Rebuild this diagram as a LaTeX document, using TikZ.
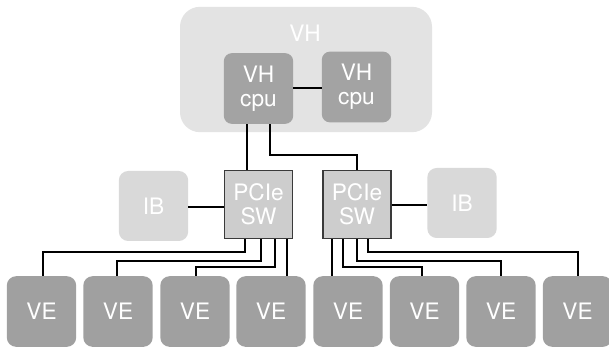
\documentclass[tikz,border=0pt]{standalone}
\usepackage{fontspec}
\setmainfont{TeX Gyre Heros}
\begin{document}
\begin{tikzpicture}[x=0.75pt,y=-0.75pt,
  every node/.style={inner sep=0pt, font=\fontsize{17}{18}\selectfont, text=white, align=center},
  hostbox/.style={fill=hostgray, rounded corners=15pt},
  cpubox/.style={fill=cpugray, rounded corners=6pt, minimum width=52pt, minimum height=53pt},
  ibbox/.style={fill=ibgray, rounded corners=7pt, minimum width=52pt, minimum height=52.5pt},
  swbox/.style={fill=swgray, draw=swedge, line width=0.9pt, minimum width=51pt, minimum height=51.5pt},
  vebox/.style={fill=vegray, rounded corners=7pt, minimum width=52pt, minimum height=53pt},
  link/.style={draw=black, line width=1.05pt}
]
\definecolor{hostgray}{HTML}{E3E3E3}
\definecolor{cpugray}{HTML}{A3A3A3}
\definecolor{ibgray}{HTML}{D9D9D9}
\definecolor{swgray}{HTML}{CDCDCD}
\definecolor{swedge}{HTML}{3A3A3A}
\definecolor{vegray}{HTML}{A0A0A0}

\useasboundingbox (0,0) rectangle (609,352);
\fill[white] (0,0) rectangle (609,352);

% host
\node[hostbox, minimum width=189pt, minimum height=94pt] (vh) at (306,69.5) {};
\node (vhtitle) at (305,33) {VH};
\node[cpubox] (cpu1) at (258.5,88.5) {VH\\cpu};
\node[cpubox] (cpu2) at (356.5,87) {VH\\cpu};

% switches and IB
\node[swbox] (sw1) at (258.5,204.5) {PCIe\\SW};
\node[swbox] (sw2) at (357,204.5) {PCIe\\SW};
\node[ibbox] (ib1) at (153.5,206) {IB};
\node[ibbox] (ib2) at (462,203) {IB};

% vector engines
\foreach \i/\cx in {1/41.5,2/118,3/195,4/271,5/348,6/424.5,7/501,8/577.5}
  \node[vebox] (ve\i) at (\cx,311.5) {VE};

% host links
\draw[link] (cpu1.east |- 0,88) -- (cpu2.west |- 0,88);
\draw[link] (cpu1.south -| 247,0) -- (sw1.north -| 247,0);
\draw[link] (cpu1.south -| 270,0) |- (357,155) -- (sw2.north);

% IB links
\draw[link] (ib1.east |- 0,207) -- (sw1.west |- 0,207);
\draw[link] (sw2.east |- 0,205) -- (ib2.west |- 0,205);

% left switch fan-out
\draw[link] (sw1.south -| 245,0) |- (43,252) -- (ve1.north -| 43,0);
\draw[link] (sw1.south -| 261,0) |- (117,261) -- (ve2.north -| 117,0);
\draw[link] (sw1.south -| 275,0) |- (196,267) -- (ve3.north -| 196,0);
\draw[link] (sw1.south -| 287,0) -- (ve4.north -| 287,0);

% right switch fan-out
\draw[link] (sw2.south -| 332,0) -- (ve5.north -| 332,0);
\draw[link] (sw2.south -| 343,0) |- (422,267) -- (ve6.north -| 422,0);
\draw[link] (sw2.south -| 357,0) |- (501,261) -- (ve7.north -| 501,0);
\draw[link] (sw2.south -| 368,0) |- (578,252) -- (ve8.north -| 578,0);
\end{tikzpicture}
\end{document}
